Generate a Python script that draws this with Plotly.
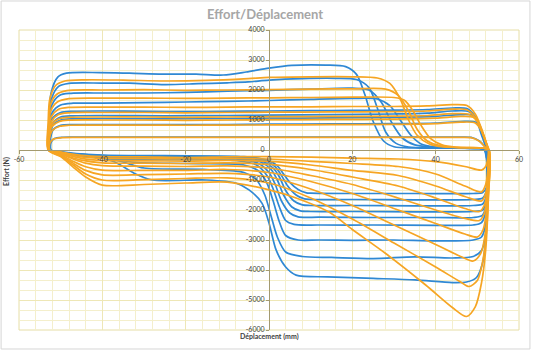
import plotly.graph_objects as go

X_TICKS = [-60, -40, -20, 0, 20, 40, 60]
X_LABELS = ["-60", "-40", "-20", "0", "20", "40", "60"]
Y_TICKS = [4000, 3000, 2000, 1000, 0, -1000, -2000, -3000, -4000, -5000, -6000]
Y_LABELS = ["4000", "3000", "2000", "1000", "0", "-1000", "-2000", "-3000", "-4000", "-5000", "-6000"]

# Blue cycles: [displacement (mm), effort (N)]
B1 = [[-52.8,0],[-52.8,1000],[-52.3,1900],[-50.7,2430],[-48.6,2560],[-40.7,2580],[-33.5,2560],[-25.6,2530],[-17.5,2530],[-11,2500],[-5.5,2600],[0,2730],[5.5,2820],[13.6,2830],[18.4,2780],[21,2520],[23,1850],[25,950],[27.5,300],[30,110],[35,70],[45,60],[50.5,50],[51.6,20],[52.2,-300],[52.3,-1500],[52,-3000],[51.2,-3800],[49.8,-4250],[47.4,-4400],[44,-4420],[35,-4330],[25,-4280],[14,-4230],[6.5,-4170],[4,-3900],[1.7,-3330],[0,-2430],[-1.7,-1770],[-4.8,-1330],[-8,-1100],[-15,-1000],[-28,-1000],[-32,-800],[-37,-400],[-42,-200],[-48,-150],[-51,-80],[-52.8,0]]
B2 = [[-52.8,0],[-52.8,900],[-52.2,1700],[-50.5,2120],[-48,2220],[-40,2230],[-33.5,2230],[-25,2180],[-17,2210],[-10,2240],[-5,2270],[0,2330],[8,2380],[16,2390],[21,2350],[24,2080],[26,1400],[28,600],[30.5,220],[33.5,100],[40,70],[50.5,50],[51.7,20],[52.3,-300],[52.4,-1500],[52,-2800],[51,-3350],[49,-3550],[44,-3600],[35,-3560],[25,-3620],[15,-3580],[8,-3550],[4,-3400],[2,-2900],[0.5,-2200],[-1,-1500],[-3,-1000],[-6,-750],[-15,-650],[-30,-600],[-35,-400],[-40,-230],[-48,-150],[-51,-80],[-52.8,0]]
B3 = [[-52.7,0],[-52.7,800],[-52.1,1500],[-50.3,1820],[-47.5,1890],[-40,1900],[-30,1900],[-20,1920],[-10,1960],[0,1990],[10,2030],[20,2060],[24,2000],[27,1580],[29.5,900],[32,400],[35,170],[39,100],[45,70],[50.5,50],[51.7,20],[52.3,-300],[52.4,-1300],[52.1,-2400],[51,-2900],[49,-3000],[40,-3030],[30,-3000],[20,-3010],[12,-3000],[7,-3000],[4,-2850],[2.5,-2400],[1,-1700],[-0.5,-1100],[-2.5,-700],[-6,-500],[-20,-450],[-33,-400],[-40,-200],[-48,-120],[-51,-60],[-52.7,0]]
B4 = [[-52.6,0],[-52.6,700],[-52,1250],[-50,1500],[-47,1560],[-40,1560],[-30,1580],[-20,1600],[-10,1620],[0,1650],[10,1690],[20,1720],[26,1700],[29,1480],[31.5,1000],[34,500],[36.5,200],[40,100],[45,70],[50.5,50],[51.8,20],[52.3,-300],[52.4,-1100],[52.1,-2000],[51,-2420],[49,-2500],[40,-2510],[25,-2500],[12,-2500],[6,-2480],[4,-2350],[2.5,-1900],[1,-1300],[-0.5,-850],[-3,-500],[-8,-350],[-25,-320],[-38,-300],[-45,-180],[-50,-80],[-52.6,0]]
B5 = [[-52.6,0],[-52.6,600],[-52,1050],[-50,1250],[-47,1290],[-40,1300],[-30,1290],[-20,1280],[-10,1290],[0,1300],[10,1310],[20,1320],[30,1330],[38,1350],[44,1400],[47.5,1380],[49.5,1100],[51,500],[52,100],[52.4,-300],[52.5,-1000],[52.2,-1800],[51.2,-2180],[49,-2250],[40,-2250],[25,-2250],[12,-2240],[7,-2230],[5,-2100],[3,-1700],[1.5,-1150],[0,-750],[-2.5,-450],[-8,-300],[-25,-270],[-40,-250],[-47,-150],[-51,-60],[-52.6,0]]
B6 = [[-52.5,0],[-52.5,500],[-51.9,900],[-50,1100],[-47,1140],[-40,1150],[-25,1140],[-10,1150],[0,1160],[15,1180],[30,1200],[38,1230],[44,1300],[48,1280],[50,1000],[51.3,450],[52.1,80],[52.5,-300],[52.5,-900],[52.2,-1650],[51.3,-2000],[49,-2050],[35,-2060],[20,-2050],[10,-2050],[7.5,-2030],[5.5,-1900],[3.5,-1500],[2,-1000],[0.5,-650],[-2,-400],[-8,-280],[-25,-250],[-40,-230],[-47,-140],[-51,-60],[-52.5,0]]
B7 = [[-52.5,0],[-52.5,450],[-51.9,820],[-50,1000],[-47,1040],[-40,1050],[-25,1040],[-10,1050],[0,1060],[15,1070],[30,1090],[40,1120],[46,1180],[49,1150],[50.5,850],[51.6,350],[52.2,60],[52.5,-300],[52.5,-800],[52.2,-1500],[51.3,-1800],[49,-1850],[35,-1860],[20,-1850],[10,-1850],[8,-1830],[6,-1700],[4,-1350],[2.5,-900],[1,-600],[-1.5,-380],[-7,-260],[-25,-230],[-40,-210],[-47,-130],[-51,-50],[-52.5,0]]
B8 = [[-52.4,0],[-52.4,400],[-51.8,680],[-50,820],[-47,845],[-40,850],[-25,845],[-10,850],[0,860],[15,870],[30,880],[40,900],[46,950],[49.5,930],[51,650],[52,250],[52.5,0],[52.6,-400],[52.5,-900],[52.2,-1350],[51.3,-1600],[49,-1650],[35,-1660],[20,-1650],[10,-1650],[8.5,-1630],[6.5,-1500],[4.5,-1200],[3,-850],[1.5,-560],[-1,-350],[-7,-240],[-25,-210],[-40,-190],[-47,-120],[-51,-50],[-52.4,0]]
B9 = [[-52.3,0],[-52.3,250],[-51.5,380],[-49.5,425],[-46,430],[-30,430],[-10,430],[10,430],[30,430],[45,430],[48.5,420],[50.5,300],[51.8,120],[52.5,0],[52.6,-400],[52.5,-900],[52.2,-1250],[51.3,-1420],[49,-1450],[35,-1450],[20,-1450],[10,-1440],[9,-1430],[7,-1320],[5,-1080],[3.5,-800],[2,-530],[-0.5,-330],[-6,-220],[-25,-190],[-40,-170],[-47,-110],[-51,-40],[-52.3,0]]

# Orange cycles
O1 = [[-53,0],[-53,900],[-52.6,1700],[-51.2,2150],[-49,2300],[-44,2340],[-35,2330],[-25,2300],[-15,2320],[-5,2380],[0,2420],[10,2440],[20,2440],[26,2400],[29,2220],[31.5,1700],[33.5,1000],[35.5,500],[38.5,200],[42,100],[48,80],[51.5,60],[52.8,0],[52.6,-1670],[52,-3330],[51,-4430],[49.5,-5230],[47.4,-5550],[44,-5250],[37.6,-4500],[28,-3450],[20,-2650],[14.4,-2070],[6.5,-1600],[0,-1330],[-10,-1070],[-20,-1100],[-30,-1150],[-40,-1170],[-44,-900],[-47,-570],[-50,-220],[-53,0]]
O2 = [[-52.9,0],[-52.9,800],[-52.5,1500],[-51,1850],[-48.5,1980],[-40,2000],[-30,2010],[-20,1990],[-10,2000],[0,2010],[10,2030],[20,2040],[28,2030],[31,1820],[33.5,1300],[35.5,700],[38,300],[41.5,130],[46,80],[51.5,60],[52.8,0],[52.7,-1400],[52.2,-2700],[51.3,-3700],[50,-4350],[48,-4550],[46,-4400],[40,-3900],[30,-3100],[20,-2300],[10,-1600],[0,-1100],[-10,-930],[-20,-950],[-30,-990],[-40,-1000],[-44,-800],[-47,-500],[-50,-200],[-52.9,0]]
O3 = [[-52.9,0],[-52.9,700],[-52.4,1300],[-50.8,1600],[-48,1710],[-40,1730],[-30,1730],[-20,1720],[-10,1730],[0,1740],[10,1750],[20,1760],[30,1750],[32.5,1660],[34.5,1320],[36.5,820],[38.8,380],[41.5,170],[45,90],[51.5,60],[52.8,0],[52.6,-1500],[52,-2700],[50.8,-3450],[49,-3700],[46,-3550],[40,-3150],[30,-2500],[20,-1850],[10,-1300],[0,-900],[-10,-780],[-20,-800],[-30,-820],[-40,-830],[-44,-680],[-47,-440],[-50,-180],[-52.9,0]]
O4 = [[-52.9,0],[-52.9,600],[-52.3,1100],[-50.6,1350],[-48,1420],[-40,1430],[-30,1430],[-20,1420],[-10,1430],[0,1440],[10,1440],[20,1450],[30,1450],[38,1470],[44,1510],[47.5,1480],[49.5,1200],[51.3,600],[52.4,150],[52.8,0],[52.7,-900],[52.3,-1900],[51.4,-2650],[50,-2900],[47,-2800],[40,-2450],[31,-2000],[20,-1450],[10,-1050],[0,-750],[-10,-650],[-20,-680],[-30,-680],[-40,-670],[-44,-560],[-47,-380],[-50,-160],[-52.9,0]]
O5 = [[-52.8,0],[-52.8,550],[-52.2,950],[-50.5,1180],[-48,1240],[-40,1250],[-30,1250],[-20,1240],[-10,1250],[0,1260],[15,1270],[30,1280],[38,1300],[44,1360],[47.5,1340],[49.5,1080],[51.3,550],[52.4,130],[52.7,0],[52.7,-600],[52.4,-1400],[51.7,-2100],[50.5,-2350],[47,-2280],[40,-2000],[31,-1600],[20,-1150],[10,-850],[0,-600],[-10,-530],[-20,-550],[-30,-540],[-40,-520],[-44,-440],[-47,-300],[-50,-130],[-52.8,0]]
O6 = [[-52.8,0],[-52.8,500],[-52.2,850],[-50.4,1040],[-48,1090],[-40,1100],[-30,1100],[-20,1090],[-10,1100],[0,1110],[15,1120],[30,1130],[38,1150],[44,1210],[48,1190],[50,950],[51.5,450],[52.4,100],[52.7,0],[52.7,-500],[52.4,-1200],[51.8,-1800],[50.5,-2050],[47,-1950],[40,-1600],[31,-1200],[20,-900],[10,-650],[0,-480],[-10,-430],[-20,-450],[-30,-440],[-40,-430],[-45,-340],[-48,-220],[-50.5,-100],[-52.8,0]]
O7 = [[-52.7,0],[-52.7,450],[-52.1,780],[-50.3,950],[-48,995],[-40,1000],[-30,1000],[-20,990],[-10,1000],[0,1010],[15,1020],[30,1030],[40,1060],[46,1120],[49,1090],[50.6,820],[51.8,350],[52.5,60],[52.7,0],[52.7,-300],[52.5,-900],[52,-1450],[51,-1700],[47,-1550],[40,-1200],[31,-850],[20,-680],[10,-500],[0,-380],[-10,-350],[-20,-370],[-30,-360],[-40,-350],[-45,-280],[-48,-180],[-50.5,-80],[-52.7,0]]
O8 = [[-52.7,0],[-52.7,380],[-52,650],[-50.2,790],[-48,825],[-40,830],[-30,830],[-20,825],[-10,830],[0,835],[15,845],[30,855],[40,880],[46,930],[49.5,900],[51,640],[52.1,250],[52.7,0],[52.7,-200],[52.5,-700],[52,-1150],[51,-1400],[47,-1200],[40,-800],[31,-550],[20,-450],[10,-380],[0,-300],[-10,-290],[-20,-300],[-30,-290],[-40,-280],[-45,-230],[-48,-150],[-50.5,-60],[-52.7,0]]
O9 = [[-52.6,0],[-52.6,230],[-51.8,360],[-49.8,410],[-46,420],[-30,420],[-10,420],[10,420],[30,420],[45,420],[48.5,410],[50.5,290],[51.8,110],[52.7,0],[52.5,-300],[52,-550],[51,-670],[47,-550],[40,-390],[31,-300],[20,-270],[10,-240],[0,-220],[-10,-230],[-20,-250],[-30,-230],[-40,-220],[-45,-180],[-48,-120],[-50.5,-50],[-52.6,0]]

BLUE_LOOPS = [B1, B2, B3, B4, B5, B6, B7, B8, B9]
ORANGE_LOOPS = [O1, O2, O3, O4, O5, O6, O7, O8, O9]

BLUE = "#2f88d4"
ORANGE = "#f6a523"

fig = go.Figure()
for loops, color in ((BLUE_LOOPS, BLUE), (ORANGE_LOOPS, ORANGE)):
    for pts in loops:
        fig.add_trace(go.Scatter(
            x=[p[0] for p in pts], y=[p[1] for p in pts], mode="lines",
            line=dict(color=color, width=1.7, shape="spline", smoothing=0.8),
            hoverinfo="skip", showlegend=False))

FONT = "Lato, Open Sans, sans-serif"
GRID = "#eee7b6"
MINOR = "#f4efcc"
AXIS = "#a39a70"

fig.update_layout(
    width=535, height=351,
    margin=dict(l=19, r=13, t=30, b=21),
    paper_bgcolor="white", plot_bgcolor="white",
    font=dict(family=FONT, size=7, color="#404040"),
    xaxis=dict(range=[-60, 60], domain=[0, 1], anchor="free", position=0.6,
               tickmode="array", tickvals=X_TICKS, ticktext=X_LABELS,
               showgrid=True, gridcolor=GRID, gridwidth=1, zeroline=False,
               showline=True, linecolor=AXIS, linewidth=1,
               ticks="outside", ticklen=3, tickcolor=AXIS,
               tickfont=dict(size=7, color="#404040"),
               minor=dict(tickmode="linear", tick0=0, dtick=4, showgrid=True,
                          gridcolor=MINOR, ticklen=0)),
    yaxis=dict(range=[-6000, 4000], domain=[0, 1], anchor="free", position=0.5,
               tickmode="array", tickvals=Y_TICKS, ticktext=Y_LABELS,
               showgrid=True, gridcolor=GRID, gridwidth=1, zeroline=False,
               showline=True, linecolor=AXIS, linewidth=1,
               ticks="outside", ticklen=3, tickcolor=AXIS,
               tickfont=dict(size=7, color="#404040"),
               minor=dict(tickmode="linear", tick0=0, dtick=1000/3, showgrid=True,
                          gridcolor=MINOR, ticklen=0)),
    shapes=[
        dict(type="rect", xref="paper", yref="paper", x0=0, y0=0, x1=1, y1=1,
             line=dict(color="#e6dea6", width=1), layer="below"),
        dict(type="rect", xref="paper", yref="paper", x0=-0.0358, y0=-0.0633,
             x1=1.0219, y1=1.0967, line=dict(color="#d6d6d6", width=1)),
    ],
    annotations=[
        dict(text="<b>Effort/Déplacement</b>", xref="paper", yref="paper",
             x=0.491, y=1.053, showarrow=False, xanchor="center", yanchor="middle",
             font=dict(family=FONT, size=13, color="#a6a6a6")),
        dict(text="<b>Effort (N)</b>", xref="paper", yref="paper",
             x=-0.024, y=0.527, showarrow=False, textangle=-90,
             xanchor="center", yanchor="middle",
             font=dict(family=FONT, size=7, color="#404040")),
        dict(text="<b>Déplacement (mm)</b>", xref="paper", yref="paper",
             x=0.501, y=-0.023, showarrow=False, xanchor="center", yanchor="middle",
             font=dict(family=FONT, size=7, color="#404040")),
    ],
)

fig.write_html("out.html")
